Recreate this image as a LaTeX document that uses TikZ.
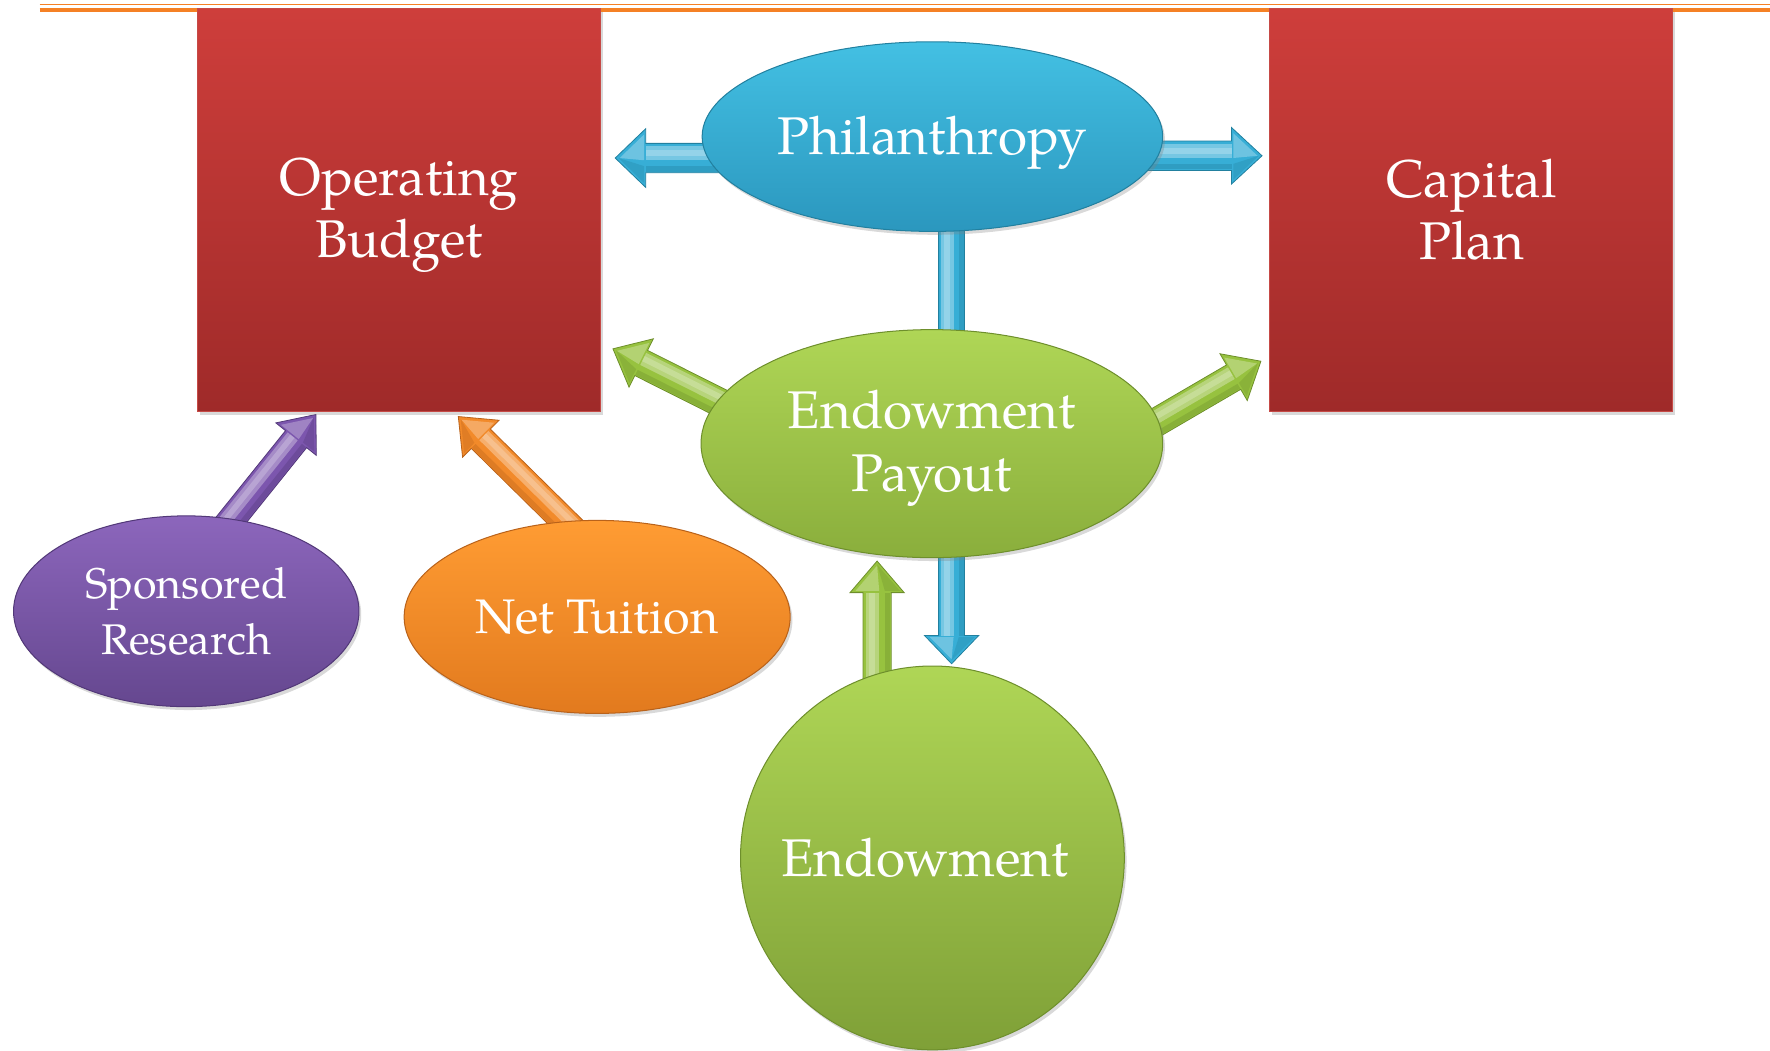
\documentclass[tikz,border=0pt]{standalone}
\usepackage{fontspec}
\setmainfont{TeX Gyre Pagella}
\usetikzlibrary{calc,shapes.geometric,shadows}
\definecolor{redT}{HTML}{CE3E3B}
\definecolor{redB}{HTML}{9F2A29}
\definecolor{redE}{HTML}{C64A46}
\definecolor{bluT}{HTML}{43C0E3}
\definecolor{bluB}{HTML}{2B97BE}
\definecolor{bluE}{HTML}{22809F}
\definecolor{grnT}{HTML}{AFD656}
\definecolor{grnB}{HTML}{8AAE3C}
\definecolor{grnE}{HTML}{6E8F2C}
\definecolor{purT}{HTML}{8C66BC}
\definecolor{purB}{HTML}{65478F}
\definecolor{purE}{HTML}{523878}
\definecolor{orgT}{HTML}{FF9C33}
\definecolor{orgB}{HTML}{E27A1E}
\definecolor{orgE}{HTML}{B9621A}
\definecolor{rule}{HTML}{F58125}
\definecolor{bluA}{HTML}{37AED6}
\definecolor{grnA}{HTML}{97C23F}
\definecolor{purA}{HTML}{7C56AE}
\definecolor{orgA}{HTML}{F28A2A}
\pgfdeclarelayer{bg}
\pgfsetlayers{bg,main}
% block arrow: #1 start, #2 tip, #3 shaft half width, #4 head half width, #5 head length,
% #6 body colour, #7 edge colour
\newcommand\barrow[7]{%
  \path let \p1=($(#2)-(#1)$) in \pgfextra{%
    \pgfmathsetmacro\barang{atan2(\y1,\x1)}%
    \pgfmathsetmacro\barlen{veclen(\x1,\y1)}%
    \pgfmathsetmacro\bars{(sin(\barang)+cos(\barang))>=0 ? 1 : -1}%
    \global\let\barang\barang\global\let\barlen\barlen\global\let\bars\bars};
  \begin{scope}[transform canvas={shift={(#1)}, rotate=\barang}]
    \filldraw[fill=#6, draw=#7, line width=0.7pt] (0pt,#3) -- ({\barlen pt-#5},#3) -- ({\barlen pt-#5},#4)
      -- ({\barlen pt},0pt) -- ({\barlen pt-#5},-#4) -- ({\barlen pt-#5},-#3) -- (0pt,-#3) -- cycle;
    \fill[#6!55!white, opacity=0.7] (0pt,{\bars*(-0.15)*#3}) rectangle ({\barlen pt-#5},{\bars*0.8*#3});
    \fill[white, opacity=0.22] (0pt,{\bars*0.15*#3}) rectangle ({\barlen pt-#5},{\bars*0.55*#3});
    \fill[#7, opacity=0.35] (0pt,{-\bars*0.55*#3}) rectangle ({\barlen pt-#5},{-\bars*0.93*#3});
    \fill[#6!55!white, opacity=0.6] ({\barlen pt-#5+1.5pt},{\bars*0.8*#4}) -- ({\barlen pt-4pt},0pt)
      -- ({\barlen pt-#5+1.5pt},{\bars*(-0.15)*#3}) -- cycle;
    \fill[#7, opacity=0.3] ({\barlen pt-#5+1.5pt},{-\bars*0.85*#4}) -- ({\barlen pt-3pt},0pt)
      -- ({\barlen pt-#5+1.5pt},{-\bars*0.55*#3}) -- cycle;
  \end{scope}
}
\tikzset{
  shad/.style={drop shadow={opacity=0.3, shadow xshift=2pt, shadow yshift=-3pt}},
  rectbox/.style={rectangle, minimum width=357pt, minimum height=357pt, top color=redT,
    bottom color=redB, draw=redE, line width=0.8pt, text=white, align=center,
    font=\fontsize{47}{55}\selectfont, inner sep=0pt, shad},
  ellbox/.style={ellipse, text=white, align=center, inner sep=0pt, line width=0.9pt,
    font=\fontsize{47}{56}\selectfont, shad},
  smallbox/.style={ellbox, font=\fontsize{38}{50}\selectfont},
}
\begin{document}
\begin{tikzpicture}[x=1pt, y=-1pt]
\useasboundingbox (0,0) rectangle (1568,931);
% top rule
\draw[rule, line width=1.3pt] (35,4) -- (1568,4);
\draw[rule, line width=3.6pt] (35,8.5) -- (1568,8.5);
% nodes
\node[rectbox] (ob) at (353.5,186) {\rule{0pt}{45pt}Operating\\Budget\rule[-15pt]{0pt}{15pt}};
\node[rectbox] (cp) at (1303.5,186) {Capital\\Plan};
\node[ellbox, minimum width=408pt, minimum height=168pt, top color=bluT, bottom color=bluB, draw=bluE,
  text height=44pt, text depth=13pt] (phil) at (826,121) {Philanthropy};
\node[ellbox, minimum width=409pt, minimum height=202pt, top color=grnT, bottom color=grnB, draw=grnE]
  (pay) at (825.5,393) {\rule{0pt}{45pt}Endowment\\Payout\rule[-16pt]{0pt}{16pt}};
\node[ellbox, circle, minimum size=340pt, top color=grnT, bottom color=grnB!92!black, draw=grnE]
  (end) at (826,760) {\hspace*{-13pt}Endowment};
\node[smallbox, minimum width=306pt, minimum height=169pt, top color=purT, bottom color=purB, draw=purE]
  (sr) at (165,541.5) {Sponsored\\Research};
\node[smallbox, minimum width=342pt, minimum height=171pt, top color=orgT, bottom color=orgB, draw=orgE,
  font=\fontsize{43}{50}\selectfont] (nt) at (529,546.5) {Net Tuition};
% arrow start points (inside the source nodes)
\coordinate (s1) at ($(phil.west)+(40,19)$);
\coordinate (s2) at ($(phil.east)+(-40,17)$);
\coordinate (s3) at ($(phil.south)+(17,-20)$);
\coordinate (s4) at ($(end.north)+(-49,30)$);
\coordinate (s5) at ($(pay.west)+(30,-30)$);
\coordinate (s6) at ($(pay.east)+(-30,-5)$);
\coordinate (s7) at ($(sr.north)+(35,10)$);
\coordinate (s8) at ($(nt.north)+(-20,10)$);
% arrow end points
\coordinate (t1) at (545,140);
\coordinate (t2) at (1118,138);
\coordinate (t3) at (843,588);
\coordinate (t4) at (777,497);
\coordinate (t5) at (543,309);
\coordinate (t6) at (1117,320);
\coordinate (t7) at (280,367);
\coordinate (t8) at (406,369);
\begin{pgfonlayer}{bg}
  \barrow{s1}{t1}{13pt}{26pt}{27pt}{bluA}{bluE}
  \barrow{s2}{t2}{13pt}{25pt}{27pt}{bluA}{bluE}
  \barrow{s3}{t3}{11.5pt}{24pt}{25pt}{bluA}{bluE}
  \barrow{s4}{t4}{12.5pt}{24pt}{28pt}{grnA}{grnE}
  \barrow{s5}{t5}{12.5pt}{24pt}{28pt}{grnA}{grnE}
  \barrow{s6}{t6}{12.5pt}{24pt}{28pt}{grnA}{grnE}
  \barrow{s7}{t7}{12pt}{23pt}{28pt}{purA}{purE}
  \barrow{s8}{t8}{12pt}{23pt}{28pt}{orgA}{orgE}
\end{pgfonlayer}
\end{tikzpicture}
\end{document}
